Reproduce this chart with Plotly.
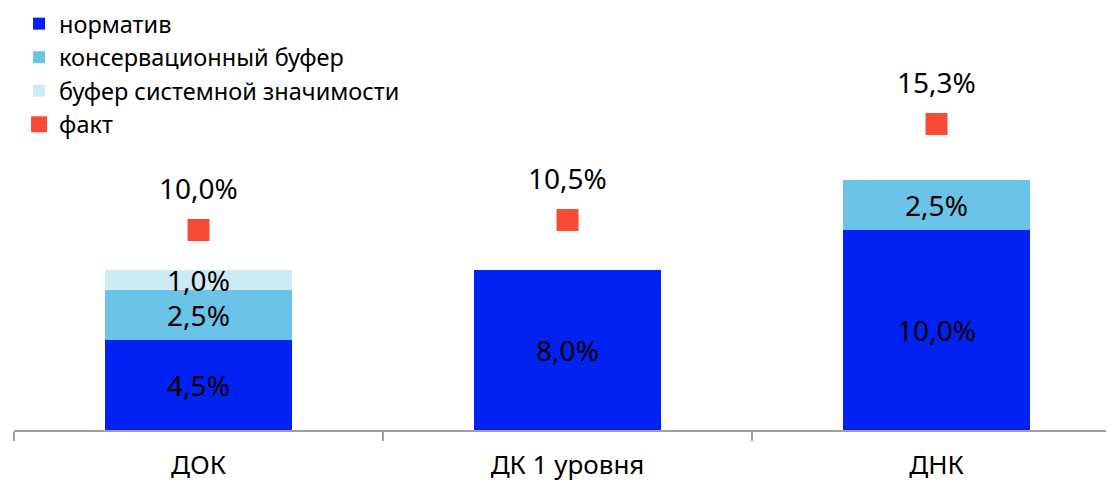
import plotly.graph_objects as go

categories = ["ДОК", "ДК 1 уровня", "ДНК"]
normativ = [4.5, 8.0, 10.0]
conservation = [2.5, None, 2.5]
systemic = [1.0, None, None]
fact = [10.0, 10.5, 15.3]

FONT = "Noto Sans"
colors = {"n": "#0222F4", "c": "#6BC3E8", "s": "#CDEBF5", "f": "#F84B36"}

fig = go.Figure()
for name, vals, col, grp in [
    ("норматив", normativ, colors["n"], "a"),
    ("консервационный буфер", conservation, colors["c"], "b"),
    ("буфер системной значимости", systemic, colors["s"], "c"),
]:
    fig.add_trace(go.Bar(
        x=categories, y=vals, name=name, marker_color=col, marker_line_width=0,
        width=0.505, texttemplate="%{y:.1f}%", textposition="inside",
        insidetextanchor="middle", constraintext="none",
        textfont=dict(family=FONT, size=28, color="black"),
        legendgroup=grp,
    ))

fig.add_trace(go.Scatter(
    x=categories, y=fact, name="факт", mode="markers",
    marker=dict(symbol="square", size=22, color=colors["f"]),
    legendgroup="d",
))

for c, v in zip(categories, fact):
    fig.add_annotation(x=c, y=v, text=f"{v:.1f}".replace(".", ",") + "%",
                       showarrow=False, yshift=42,
                       font=dict(family=FONT, size=28, color="black"))

# page body has an 8px margin; figure is sized/offset to compensate
fig.update_layout(
    barmode="stack",
    width=1106, height=477,
    margin=dict(l=6, r=0, t=0, b=55, autoexpand=False),
    plot_bgcolor="white", paper_bgcolor="white",
    separators=", ",
    showlegend=True,
    legend=dict(x=0.0046, y=1.0145, xanchor="left", yanchor="top",
                traceorder="normal", tracegroupgap=12,
                font=dict(family=FONT, size=23.5, color="black"),
                itemwidth=30, bgcolor="rgba(0,0,0,0)"),
    font=dict(family=FONT),
)
fig.update_xaxes(
    type="category", range=[-0.5, 2.481], automargin=False,
    showline=True, linecolor="#a0a0a0", linewidth=1.5,
    ticks="outside", tickson="boundaries", ticklen=9, tickcolor="#a0a0a0", tickwidth=1.5,
    tickfont=dict(family=FONT, size=26, color="black"), ticklabelstandoff=11,
    showgrid=False,
)
fig.update_yaxes(range=[0, 21.1], visible=False, showgrid=False, zeroline=False)

fig.write_html("out.html")
